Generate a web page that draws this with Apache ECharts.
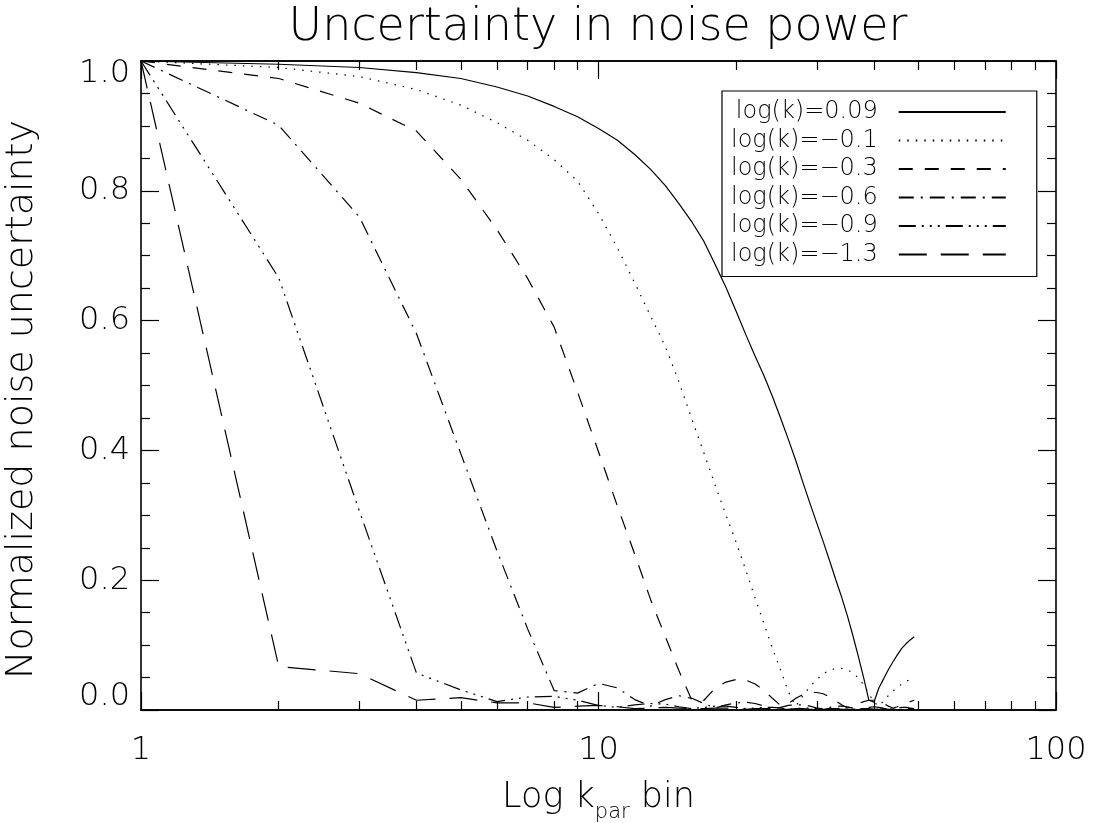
<!DOCTYPE html>
<html>
<head>
<meta charset="utf-8">
<script src="https://cdn.jsdelivr.net/npm/echarts@6/dist/echarts.min.js"></script>
<style>
html,body{margin:0;padding:0;background:#fff;}
#c{width:1094px;height:823px;}
</style>
</head>
<body>
<div id="c"></div>
<script>
// ---- data ----
const kbin = [1,2,3,4,5,6,7,8,9,10,11,12,13,14,15,16,17,18,19,20,21,22,23,24,25,26,27,28,29,30,31,32,33,34,35,36,37,38,39,40,41,42,43,44,45,46,47,48,49];

const seriesNames = ['log(k)=0.09', 'log(k)=\u22120.1', 'log(k)=\u22120.3', 'log(k)=\u22120.6', 'log(k)=\u22120.9', 'log(k)=\u22121.3'];

const logk_p009 = [1.000,0.995,0.990,0.982,0.973,0.960,0.946,0.930,0.914,0.896,0.878,0.856,0.833,0.808,0.780,0.752,0.722,0.686,0.651,0.614,0.578,0.545,0.515,0.483,0.450,0.417,0.384,0.350,0.318,0.288,0.259,0.230,0.201,0.174,0.145,0.114,0.082,0.049,0.015,0.012,0.034,0.048,0.062,0.074,0.085,0.095,0.102,0.108,0.113];

const logk_m01 = [1.000,0.990,0.976,0.956,0.932,0.905,0.878,0.848,0.815,0.765,0.712,0.658,0.607,0.560,0.505,0.448,0.396,0.346,0.300,0.258,0.215,0.172,0.133,0.095,0.062,0.028,0.006,0.022,0.036,0.047,0.056,0.061,0.064,0.064,0.062,0.057,0.049,0.039,0.025,0.012,0.006,0.014,0.022,0.029,0.035,0.040,0.044,0.047,0.049];

const logk_m03 = [1.000,0.973,0.935,0.892,0.818,0.740,0.665,0.590,0.490,0.398,0.314,0.240,0.170,0.113,0.060,0.015,0.015,0.034,0.043,0.047,0.046,0.040,0.030,0.018,0.007,0.010,0.018,0.024,0.027,0.027,0.025,0.020,0.014,0.008,0.003,0.006,0.010,0.013,0.015,0.015,0.013,0.010,0.006,0.003,0.005,0.008,0.011,0.013,0.015];

const logk_m06 = [1.000,0.901,0.760,0.580,0.395,0.245,0.125,0.030,0.026,0.041,0.034,0.016,0.006,0.016,0.022,0.018,0.010,0.003,0.008,0.011,0.012,0.010,0.006,0.002,0.004,0.007,0.008,0.008,0.006,0.003,0.002,0.004,0.006,0.006,0.005,0.003,0.001,0.003,0.004,0.005,0.004,0.003,0.001,0.002,0.003,0.004,0.004,0.003,0.002];

const logk_m09 = [1.000,0.666,0.307,0.057,0.031,0.013,0.020,0.021,0.015,0.007,0.004,0.008,0.010,0.009,0.005,0.002,0.004,0.006,0.006,0.004,0.002,0.003,0.004,0.004,0.003,0.001,0.002,0.003,0.003,0.002,0.001,0.002,0.003,0.002,0.001,0.001,0.002,0.002,0.002,0.001,0.001,0.002,0.002,0.001,0.001,0.001,0.002,0.002,0.001];

const logk_m13 = [1.000,0.067,0.056,0.015,0.019,0.011,0.011,0.004,0.006,0.007,0.005,0.002,0.003,0.004,0.003,0.002,0.002,0.003,0.003,0.002,0.001,0.002,0.002,0.002,0.001,0.001,0.002,0.002,0.001,0.001,0.001,0.002,0.002,0.001,0.001,0.001,0.002,0.001,0.001,0.001,0.001,0.002,0.001,0.001,0.001,0.001,0.001,0.001,0.001];

const xMinorTicks = [2,3,4,5,6,7,8,9,20,30,40,50,60,70,80,90];
const yTickStep = 0.2;

// ---- chart ----
const FONT = "'DejaVu Sans ExtraLight', 'DejaVu Sans Light', 'DejaVu Sans'";
const FW = 200;
const BLACK = '#000';

const allValues = [logk_p009, logk_m01, logk_m03, logk_m06, logk_m09, logk_m13];
const dashStyles = ['solid', [1.5, 7], [14, 12], [15, 7, 2, 7], [17, 6, 2, 6, 2, 6, 2, 6], [28, 14]];

function pairs(vals) { return kbin.map((k, i) => [k, vals[i]]); }

const series = allValues.map((vals, i) => ({
  name: seriesNames[i],
  type: 'line',
  xAxisIndex: 0,
  yAxisIndex: 0,
  data: pairs(vals),
  symbol: 'none',
  showSymbol: false,
  smooth: false,
  animation: false,
  silent: true,
  color: BLACK,
  lineStyle: { color: BLACK, width: 1.2, type: dashStyles[i] },
  z: 3
}));

const axisLine = { show: true, onZero: false, lineStyle: { color: BLACK, width: 1.6 } };
const tickMajor = { show: true, inside: true, length: 18, lineStyle: { color: BLACK, width: 1.2 } };
const tickMinorStyle = { color: BLACK, width: 1.2 };

const xBase = { type: 'log', logBase: 10, min: 1, max: 100, splitLine: { show: false }, axisLine: axisLine };
const gridBox = { left: 141, right: 38, top: 61, bottom: 113, show: false, containLabel: false, outerBoundsMode: 'none' };

const option = {
  backgroundColor: '#fff',
  animation: false,
  title: {
    text: 'Uncertainty in noise power',
    left: 598, top: 5, padding: 0, textAlign: 'center',
    textStyle: { fontFamily: FONT, fontWeight: FW, fontSize: 46, lineHeight: 46, color: BLACK }
  },
  grid: [ Object.assign({}, gridBox), Object.assign({}, gridBox) ],
  xAxis: [
    Object.assign({}, xBase, {
      gridIndex: 0, position: 'bottom',
      axisTick: tickMajor,
      axisLabel: { show: true, margin: 24, fontSize: 32, lineHeight: 34, fontFamily: FONT, fontWeight: FW, color: BLACK },
      name: '{a|Log k}{s|par}{a| bin}',
      nameLocation: 'middle', nameGap: 63,
      nameTextStyle: {
        color: BLACK,
        rich: {
          a: { fontFamily: FONT, fontWeight: FW, fontSize: 35, lineHeight: 50, verticalAlign: 'middle', color: BLACK },
          s: { fontFamily: FONT, fontWeight: FW, fontSize: 21, lineHeight: 21, verticalAlign: 'bottom', color: BLACK }
        }
      }
    }),
    Object.assign({}, xBase, {
      gridIndex: 0, position: 'top',
      axisTick: tickMajor, axisLabel: { show: false }
    }),
    Object.assign({}, xBase, {
      gridIndex: 1, position: 'bottom',
      axisTick: { show: true, inside: true, length: 9, customValues: xMinorTicks, lineStyle: tickMinorStyle },
      axisLabel: { show: false }
    }),
    Object.assign({}, xBase, {
      gridIndex: 1, position: 'top',
      axisTick: { show: true, inside: true, length: 9, customValues: xMinorTicks, lineStyle: tickMinorStyle },
      axisLabel: { show: false }
    })
  ],
  yAxis: [
    {
      gridIndex: 0, type: 'value', position: 'left', min: 0, max: 1, interval: yTickStep,
      splitLine: { show: false }, axisLine: axisLine, axisTick: tickMajor,
      minorTick: { show: true, splitNumber: 4, length: 9, lineStyle: tickMinorStyle },
      axisLabel: {
        margin: 11, fontSize: 32, lineHeight: 26, fontFamily: FONT, fontWeight: FW, color: BLACK,
        formatter: v => v.toFixed(1),
        verticalAlignMinLabel: 'bottom', verticalAlignMaxLabel: 'top'
      },
      name: 'Normalized noise uncertainty', nameLocation: 'middle', nameGap: 100, nameRotate: 90,
      nameTextStyle: { fontFamily: FONT, fontWeight: FW, fontSize: 38, color: BLACK, padding: [0, 28, 0, 0] }
    },
    {
      gridIndex: 0, type: 'value', position: 'right', min: 0, max: 1, interval: yTickStep,
      splitLine: { show: false }, axisLine: axisLine, axisTick: tickMajor,
      minorTick: { show: true, splitNumber: 4, length: 9, lineStyle: tickMinorStyle },
      axisLabel: { show: false }
    },
    {
      gridIndex: 1, type: 'value', min: 0, max: 1, show: false
    }
  ],
  legend: {
    orient: 'vertical', left: 722, top: 91, align: 'right',
    itemWidth: 107, itemHeight: 24, itemGap: 4.5,
    padding: [9, 30, 10, 9],
    borderColor: BLACK, borderWidth: 1.2, backgroundColor: '#fff',
    selectedMode: false,
    itemStyle: { opacity: 0 },
    textStyle: { fontFamily: FONT, fontWeight: FW, fontSize: 24, lineHeight: 24, color: BLACK, padding: [0, 16, 0, 0] },
    data: seriesNames
  },
  series: series
};

const chart = echarts.init(document.getElementById('c'), null, { renderer: 'canvas' });
chart.setOption(option);
</script>
</body>
</html>
